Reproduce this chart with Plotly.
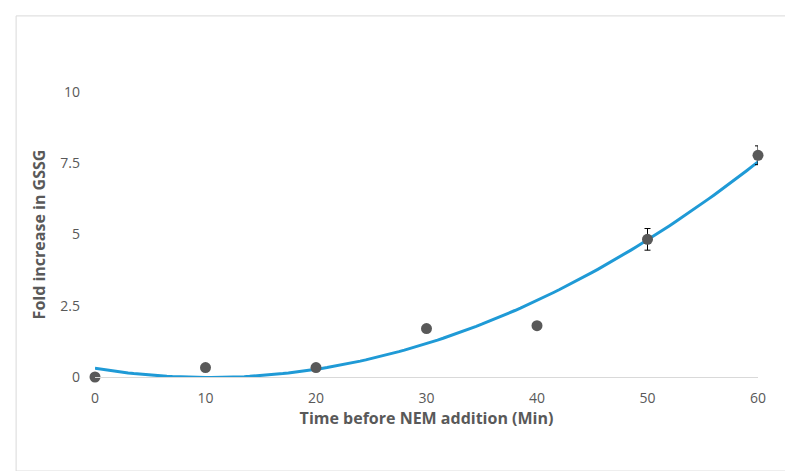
import numpy as np
import plotly.graph_objects as go

time_min = [0, 10, 20, 30, 40, 50, 60]
fold_gssg = [0.0, 0.33, 0.33, 1.70, 1.80, 4.83, 7.78]
err = [0.05, 0.06, 0.06, 0.10, 0.10, 0.38, 0.33]

# quadratic trendline, as in the spreadsheet original
coef = np.polyfit(time_min, fold_gssg, 2)
xs = np.linspace(0, 60, 121)
ys = np.polyval(coef, xs)

fig = go.Figure()
fig.add_trace(go.Scatter(x=xs, y=ys, mode="lines",
                         line=dict(color="#1f9ad6", width=3), hoverinfo="skip"))
fig.add_trace(go.Scatter(
    x=time_min, y=fold_gssg, mode="markers",
    marker=dict(color="#595959", size=11),
    error_y=dict(type="data", array=err, color="#000000", thickness=1, width=3),
    cliponaxis=False,
))

font_col = "#595959"
fig.update_layout(
    width=793, height=471,
    margin=dict(l=87, r=43, t=84, b=102),
    paper_bgcolor="white", plot_bgcolor="white",
    showlegend=False,
    font=dict(family="Open Sans", color=font_col, size=14),
    xaxis=dict(range=[0, 60], tickvals=[0, 10, 20, 30, 40, 50, 60],
               showgrid=False, zeroline=False, showline=True,
               linecolor="#d9d9d9", ticks="", automargin=False,
               ticklabelstandoff=8,
               title=dict(text="<b>Time before NEM addition (Min)</b>",
                          font=dict(size=16, color=font_col), standoff=6)),
    yaxis=dict(range=[0, 10], tickvals=[0, 2.5, 5, 7.5, 10],
               showgrid=False, zeroline=False, showline=False, ticks="",
               automargin=False, ticklabelstandoff=14,
               title=dict(text="<b>Fold increase in GSSG</b>",
                          font=dict(size=16, color=font_col), standoff=10)),
    shapes=[dict(type="rect", xref="paper", yref="paper",
                 x0=-0.119, x1=1.053, y0=-0.33, y1=1.267,
                 line=dict(color="#d9d9d9", width=1))],
)

fig.write_html("out.html")
